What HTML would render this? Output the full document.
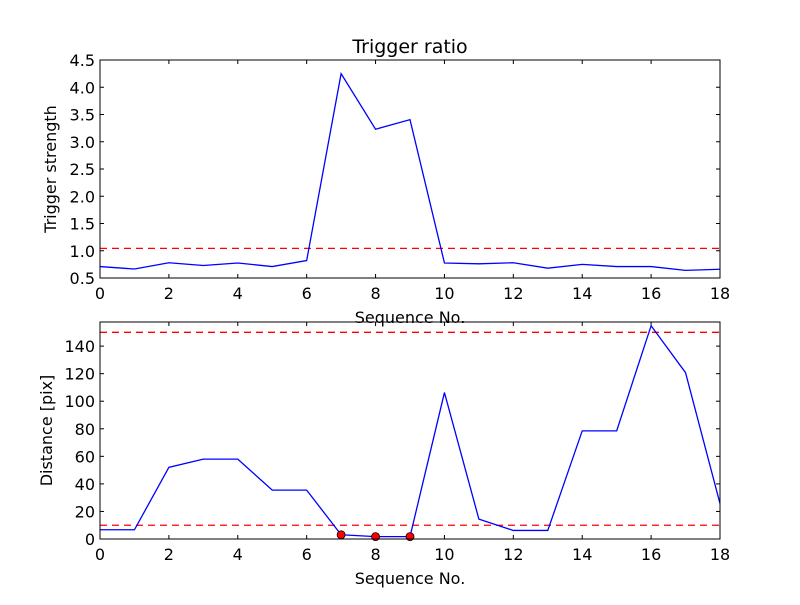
<!DOCTYPE html>
<html><head><meta charset="utf-8"><style>
body{margin:0;background:#fff;}
svg text{font-family:"DejaVu Sans","Liberation Sans",sans-serif;fill:#000;}
</style></head><body>
<svg id="chart" width="800" height="600" viewBox="0 0 800 600">
<rect width="800" height="600" fill="#fff"/>
<g id="top"></g>
<g id="bot"></g>
</svg>
<script>
const seq = [0,1,2,3,4,5,6,7,8,9,10,11,12,13,14,15,16,17,18];
const triggerStrength = [0.71,0.665,0.78,0.73,0.775,0.71,0.82,4.25,3.23,3.405,0.775,0.76,0.78,0.68,0.75,0.71,0.71,0.64,0.66];
const triggerThreshold = 1.044;
const distance = [6.7,6.7,52,58,58,35.5,35.5,3.1,1.7,1.7,106.3,14.4,6.2,6.2,78.5,78.5,154.8,120.7,25.7];
const distThresholds = [150,10];
const flagged = [7,8,9];
const xTicks = [0,2,4,6,8,10,12,14,16,18];
const topYTicks = [0.5,1.0,1.5,2.0,2.5,3.0,3.5,4.0,4.5];
const botYTicks = [0,20,40,60,80,100,120,140];

const NS='http://www.w3.org/2000/svg';
function mk(parent,tag,attrs,name){const e=document.createElementNS(NS,tag);for(const k in attrs)e.setAttribute(k,attrs[k]);


parent.appendChild(e);return e;}

function panel(g,top,bottom,ymin,ymax,yTicks,fmt,ys,ylabel,name){
  const L=100,R=720;
  const sx=v=>L+(v-0)/(18-0)*(R-L);
  const sy=v=>bottom-(v-ymin)/(ymax-ymin)*(bottom-top);
  // ticks
  xTicks.forEach(t=>{const x=sx(t);
    mk(g,'line',{x1:x,x2:x,y1:bottom,y2:bottom-4,stroke:'#000','stroke-width':1},'x-tick');
    mk(g,'line',{x1:x,x2:x,y1:top,y2:top+4,stroke:'#000','stroke-width':1},'x-tick-top');
    const tx=mk(g,'text',{x:x,y:bottom+21,'text-anchor':'middle','font-size':16},'x-tick-label');tx.textContent=t;});
  yTicks.forEach(t=>{const y=sy(t);
    mk(g,'line',{x1:L,x2:L+4,y1:y,y2:y,stroke:'#000','stroke-width':1},'y-tick');
    mk(g,'line',{x1:R,x2:R-4,y1:y,y2:y,stroke:'#000','stroke-width':1},'y-tick-right');
    const tx=mk(g,'text',{x:L-5,y:y+6,'text-anchor':'end','font-size':16},'y-tick-label');tx.textContent=fmt(t);});
  const yl=mk(g,'text',{x:0,y:0,'text-anchor':'middle','font-size':16,transform:`translate(${name==='top'?56:52},${(top+bottom)/2}) rotate(-90)`},'y-axis-title');yl.textContent=ylabel;
  const xl=mk(g,'text',{x:(L+R)/2,y:bottom+45,'text-anchor':'middle','font-size':16},'x-axis-title');xl.textContent='Sequence No.';
  return {sx,sy,L,R,top,bottom};
}
const tg=document.getElementById('top');
const t=panel(tg,60,278,0.5,4.5,topYTicks,v=>v.toFixed(1),triggerStrength,'Trigger strength','top');
const title=mk(tg,'text',{x:410,y:53,'text-anchor':'middle','font-size':19},'chart-title');title.textContent='Trigger ratio';
mk(tg,'line',{x1:t.L,x2:t.R,y1:t.sy(triggerThreshold),y2:t.sy(triggerThreshold),stroke:'#f00','stroke-width':1.3,'stroke-dasharray':'7,5'},'threshold-line');
mk(tg,'polyline',{points:seq.map((s,i)=>t.sx(s)+','+t.sy(triggerStrength[i])).join(' '),fill:'none',stroke:'#00f','stroke-width':1.3},'trigger-strength-line');
mk(tg,'rect',{x:t.L,y:t.top,width:t.R-t.L,height:t.bottom-t.top,fill:'none',stroke:'#000','stroke-width':1},'plot-frame');

const bg=document.getElementById('bot');
const b=panel(bg,322,539,0,157.5,botYTicks,v=>String(v),distance,'Distance [pix]','bot');
distThresholds.forEach(v=>mk(bg,'line',{x1:b.L,x2:b.R,y1:b.sy(v),y2:b.sy(v),stroke:'#f00','stroke-width':1.3,'stroke-dasharray':'7,5'},'distance-threshold-line'));
mk(bg,'polyline',{points:seq.map((s,i)=>b.sx(s)+','+b.sy(distance[i])).join(' '),fill:'none',stroke:'#00f','stroke-width':1.3},'distance-line');
flagged.forEach(i=>mk(bg,'circle',{cx:b.sx(seq[i]),cy:b.sy(distance[i]),r:4,fill:'#f00',stroke:'#000','stroke-width':0.8},'flagged-point'));
mk(bg,'rect',{x:b.L,y:b.top,width:b.R-b.L,height:b.bottom-b.top,fill:'none',stroke:'#000','stroke-width':1},'plot-frame');
</script>
</body></html>
